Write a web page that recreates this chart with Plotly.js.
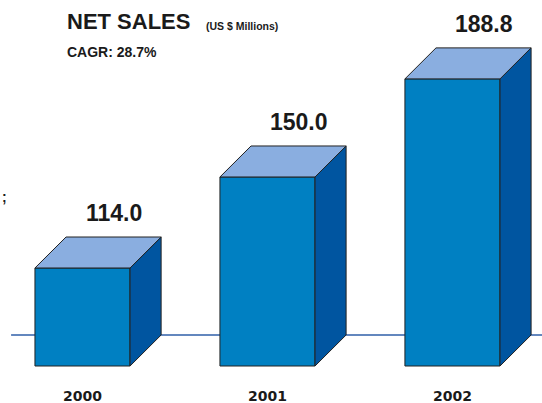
<!DOCTYPE html>
<html>
<head>
<meta charset="utf-8">
<script src="https://cdn.plot.ly/plotly-3.0.1.min.js"></script>
<style>html,body{margin:0;padding:0;background:#fff;}#chart{width:542px;height:403px;}</style>
</head>
<body>
<div id="chart"></div>
<script>
// ---- data ----
const years = ['2000', '2001', '2002'];
const netSales = [114.0, 150.0, 188.8];
const valueLabels = ['114.0', '150.0', '188.8'];
const titleText = 'NET SALES';
const unitText = '(US $ Millions)';
const cagrText = 'CAGR: 28.7%';

// ---- drawing parameters ----
const floorVal = 75.23;  // value at the floor of the truncated axis
const barW = 0.514;      // front face width (category units)
const depthX = 0.168;    // 3D depth, x
const depthY = 12.26;    // 3D depth, y (value units)
const xs = years.map((_, i) => i);

const frontFace = {
  type: 'bar', x: xs, y: netSales.map(v => v - floorVal), base: floorVal,
  width: barW,
  marker: {color: '#0080c2', line: {color: '#222', width: 1}},
  hoverinfo: 'skip'
};

const sideX = [], sideY = [], topX = [], topY = [];
xs.forEach((x, i) => {
  const v = netSales[i], xl = x - barW / 2, xr = x + barW / 2;
  sideX.push(xr, xr + depthX, xr + depthX, xr, xr, null);
  sideY.push(floorVal, floorVal + depthY, v + depthY, v, floorVal, null);
  topX.push(xl, xl + depthX, xr + depthX, xr, xl, null);
  topY.push(v, v + depthY, v + depthY, v, v, null);
});
const sideFace = {type: 'scatter', mode: 'lines', x: sideX, y: sideY, fill: 'toself',
  fillcolor: '#0055a0', line: {color: '#222', width: 1}, hoverinfo: 'skip'};
const topFace = {type: 'scatter', mode: 'lines', x: topX, y: topY, fill: 'toself',
  fillcolor: '#8aaee0', line: {color: '#222', width: 1}, hoverinfo: 'skip'};

const annotations = [];
xs.forEach((x, i) => {
  annotations.push({x: x + depthX, y: netSales[i] + depthY + 9.5, xref: 'x', yref: 'y',
    text: valueLabels[i], showarrow: false, xanchor: 'center', yanchor: 'middle',
    font: {family: 'Liberation Sans, Arial, sans-serif', size: 23, color: '#1a1a1a', weight: 'bold'}});
  annotations.push({x: x, y: floorVal - 11.9, xref: 'x', yref: 'y',
    text: years[i], showarrow: false, xanchor: 'center', yanchor: 'middle',
    font: {family: 'DejaVu Sans, sans-serif', size: 14, color: '#1a1a1a', weight: 'bold'}});
});
const W = 542, H = 403;
function pa(px, py, text, size, anchor) {
  return {x: px / W, y: 1 - py / H, xref: 'paper', yref: 'paper', text: text, showarrow: false,
    xanchor: anchor || 'left', yanchor: 'middle',
    font: {family: 'Liberation Sans, Arial, sans-serif', size: size, color: '#1a1a1a', weight: 'bold'}};
}
annotations.push(pa(65, 21, titleText, 22));
annotations.push(pa(204, 26, unitText, 10.5));
annotations.push(pa(65, 52, cagrText, 14));
annotations.push(pa(0, 197, ';', 14));

const layout = {
  width: W, height: H,
  margin: {l: 0, r: 0, t: 0, b: 0},
  paper_bgcolor: '#fff', plot_bgcolor: '#fff',
  showlegend: false,
  xaxis: {range: [-0.446, 2.484], visible: false, fixedrange: true},
  yaxis: {range: [60.6, 220.0], visible: false, fixedrange: true},
  shapes: [{type: 'line', layer: 'below', xref: 'x', yref: 'y',
    x0: -0.386, x1: 2.484, y0: floorVal + depthY, y1: floorVal + depthY,
    line: {color: '#2f5fa8', width: 1.5}}],
  annotations: annotations
};
Plotly.newPlot('chart', [frontFace, sideFace, topFace], layout, {displayModeBar: false, staticPlot: true});
</script>
</body>
</html>
